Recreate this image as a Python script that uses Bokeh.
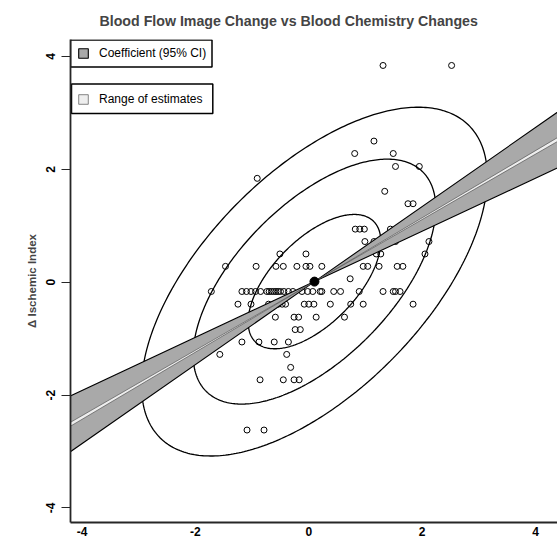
import numpy as np
from bokeh.plotting import figure
from bokeh.models import Range1d, FixedTicker, Legend, LegendItem
from bokeh.embed import file_html
from bokeh.resources import INLINE

title_text = "Blood Flow Image Change vs Blood Chemistry Changes"
y_label = "\u0394 Ischemic Index"
tick_values = [-4, -2, 0, 2, 4]
tick_labels = ["-4", "-2", "0", "2", "4"]
legend_labels = ["Coefficient (95% CI)", "Range of estimates"]

# observations (x = blood flow image change, y = ischemic index change)
pts_x = [1.31, 2.52,
         1.15,
         0.81, 1.49,
         1.53, 1.95,
         -0.91,
         1.34,
         1.75, 1.84,
         0.82, 0.90, 0.98, 1.44,
         0.99, 1.15, 1.53, 2.12,
         -0.51, -0.05, 1.19, 1.27, 2.05,
         -1.47, -0.93, -0.58, -0.45, -0.21, -0.05, 0.02, 0.23, 0.96, 1.04, 1.24, 1.56, 1.66,
         0.73,
         -1.72, -1.18, -1.10, -1.02, -0.94, -0.85, -0.74, -0.70, -0.66, -0.62, -0.58, -0.54,
         -0.50, -0.44, -0.36, -0.28, -0.12, -0.02, 0.07, 0.20, 0.23, 0.44, 0.56, 0.89, 1.31,
         1.49, 1.53, 1.61,
         -1.25, -1.02, -0.71, -0.62, -0.54, -0.47, -0.41, -0.08, 0.00, 0.09, 0.38, 0.74, 0.96, 1.84,
         -0.59, -0.26, -0.18, 0.13, 0.63,
         -0.24, -0.15,
         -1.18, -0.88, -0.61, -0.36,
         -1.57, -0.39,
         -0.32,
         -0.86, -0.45, -0.26, -0.17,
         -1.09, -0.79]
pts_y = [3.84, 3.84,
         2.50,
         2.28, 2.28,
         2.05, 2.05,
         1.84,
         1.61,
         1.39, 1.39,
         0.94, 0.94, 0.94, 0.94,
         0.72, 0.72, 0.72, 0.72,
         0.50, 0.50, 0.50, 0.50, 0.50,
         0.28, 0.28, 0.28, 0.28, 0.28, 0.28, 0.28, 0.28, 0.28, 0.28, 0.28, 0.28, 0.28,
         0.06,
         -0.165, -0.165, -0.165, -0.165, -0.165, -0.165, -0.165, -0.165, -0.165, -0.165, -0.165, -0.165,
         -0.165, -0.165, -0.165, -0.165, -0.165, -0.165, -0.165, -0.165, -0.165, -0.165, -0.165, -0.165, -0.165,
         -0.165, -0.165, -0.165,
         -0.39, -0.39, -0.39, -0.39, -0.39, -0.39, -0.39, -0.39, -0.39, -0.39, -0.39, -0.39, -0.39, -0.39,
         -0.62, -0.62, -0.62, -0.62, -0.62,
         -0.84, -0.84,
         -1.06, -1.06, -1.06, -1.06,
         -1.28, -1.28,
         -1.51,
         -1.73, -1.73, -1.73, -1.73,
         -2.62, -2.62]

# centre (means), regression slope and its intervals
center_x = [0.10]
center_y = [0.01]
slope_est = 0.587
slope_ci = [0.470, 0.700]
slope_range = [0.579, 0.595]

# bivariate-normal contour ellipses: x half-extent, y half-extent, correlation
ell_sx = [1.17, 2.14, 3.05]
ell_sy = [1.19, 2.17, 3.09]
ell_rho = 0.60

W, H = 557, 538
BL, BR, BT, BB = 70, 0, 38, 15
PX = 56.67
fw, fh = W - BL - BR, H - BT - BB
x0 = -4.205
y1 = 4.30

p = figure(width=W, height=H, output_backend="svg", toolbar_location=None,
           x_range=Range1d(x0, x0 + fw / PX), y_range=Range1d(y1 - fh / PX, y1),
           min_border_left=BL, min_border_right=BR, min_border_top=BT, min_border_bottom=BB,
           title=title_text)
p.outline_line_color = None
p.xgrid.visible = False
p.ygrid.visible = False
p.background_fill_color = "white"

FONT = "Liberation Sans"
p.title.text_font = FONT
p.title.text_font_size = "14.2px"
p.title.text_font_style = "bold"
p.title.align = "left"
p.title.offset = 29
p.title.standoff = 21

for ax in (p.xaxis[0], p.yaxis[0]):
    ax.ticker = FixedTicker(ticks=tick_values)
    ax.major_label_overrides = {v: l for v, l in zip(tick_values, tick_labels)}
    ax.major_label_text_font = FONT
    ax.major_label_text_font_style = "bold"
    ax.major_label_text_font_size = "12px"
    ax.major_label_text_color = "black"
    ax.axis_line_color = "#262626"
    ax.axis_line_width = 1.8
    ax.minor_tick_line_color = None
    ax.major_tick_in = 0

p.xaxis.major_tick_out = 0
p.xaxis.major_tick_line_color = None
p.xaxis.major_label_standoff = 4
p.xaxis.major_label_text_line_height = 0.7

p.yaxis.major_tick_out = 9
p.yaxis.major_tick_line_color = "#262626"
p.yaxis.major_tick_line_width = 1.2
p.yaxis.major_label_standoff = 6
p.yaxis.major_label_orientation = "vertical"
p.yaxis.axis_label = y_label
p.yaxis.axis_label_text_font = FONT
p.yaxis.axis_label_text_font_style = "bold"
p.yaxis.axis_label_text_font_size = "11.5px"
p.yaxis.axis_label_standoff = 6

# ellipses
cx, cy = center_x[0], center_y[0]
t = np.linspace(0, 2 * np.pi, 361)
for a, b in zip(ell_sx, ell_sy):
    ex = cx + a * np.cos(t)
    ey = cy + b * (ell_rho * np.cos(t) + np.sqrt(1 - ell_rho ** 2) * np.sin(t))
    p.line(ex, ey, line_color="black", line_width=1.3)

# points
p.scatter(pts_x, pts_y, marker="circle", size=6, fill_color=None,
          line_color="black", line_width=1)

# coefficient fan
xl, xr = -7.0, 7.0
def fan(s_lo, s_hi):
    fx = [cx, xr, xr, cx, xl, xl]
    fy = [cy, cy + s_hi * (xr - cx), cy + s_lo * (xr - cx), cy,
          cy + s_hi * (xl - cx), cy + s_lo * (xl - cx)]
    return fx, fy

bx, by = fan(slope_ci[0], slope_ci[1])
band = p.patch(bx, by, fill_color="#a9a9a9", line_color="black", line_width=1.1)
rx, ry = fan(slope_range[0], slope_range[1])
rng = p.patch(rx, ry, fill_color="#eeeeee", line_color="#555555", line_width=0.7)

p.scatter(center_x, center_y, marker="circle", size=9, fill_color="black", line_color="black")

# legend frames (pixel boxes converted to data units)
def px2x(px):
    return x0 + (px - BL) / PX
def py2y(py):
    return y1 - (py - BT) / PX

p.quad(left=[px2x(70), px2x(71)], right=[px2x(211.5), px2x(212.3)],
       top=[py2y(38.5), py2y(82.7)], bottom=[py2y(65.7), py2y(112.3)],
       fill_color="white", line_color="black", line_width=1.5)

legend = Legend(items=[LegendItem(label=legend_labels[0], renderers=[band]),
                       LegendItem(label=legend_labels[1], renderers=[rng])],
                location="top_left",
                border_line_color=None, background_fill_alpha=0.0,
                padding=10, margin=7, spacing=32,
                glyph_width=12, glyph_height=12, label_standoff=10, label_height=12,
                label_text_font=FONT, label_text_font_size="12px",
                label_text_color="black")
p.add_layout(legend)

open("out.html", "w").write(file_html(p, INLINE))
